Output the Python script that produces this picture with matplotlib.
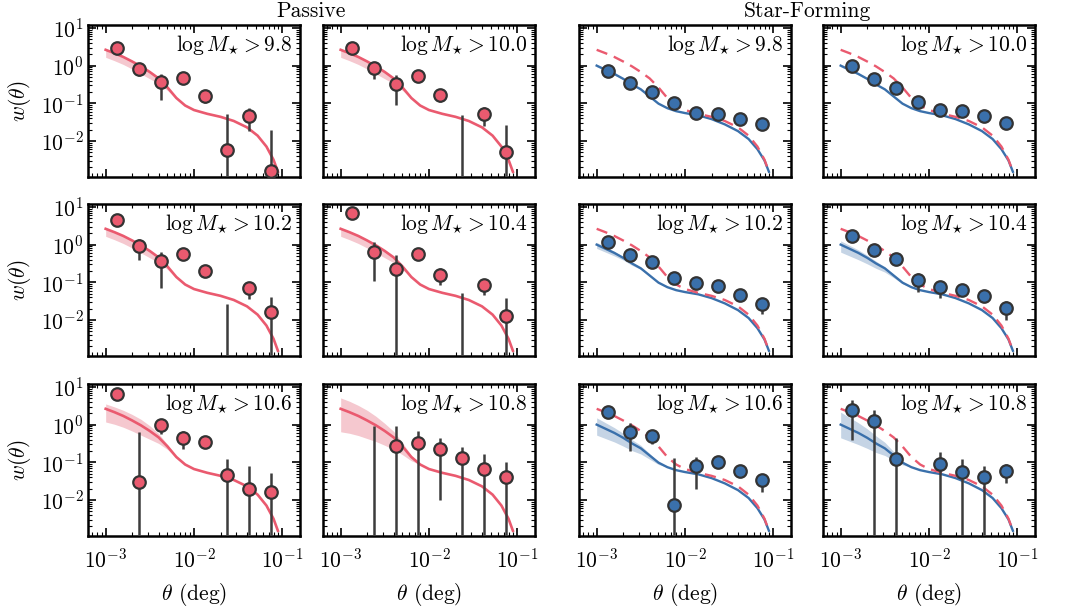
import numpy as np
import matplotlib
matplotlib.use("Agg")
import matplotlib.pyplot as plt
from matplotlib.ticker import LogLocator, NullFormatter

plt.rcParams['font.family'] = 'serif'
plt.rcParams['font.serif'] = ['cmr10']
plt.rcParams['mathtext.fontset'] = 'cm'
plt.rcParams['axes.formatter.use_mathtext'] = True

# ---------------- data ----------------
theta = [1.33e-3, 2.37e-3, 4.22e-3, 7.50e-3, 1.33e-2, 2.37e-2, 4.22e-2, 7.50e-2]

mass_labels = ["9.8", "10.0", "10.2", "10.4", "10.6", "10.8"]

# Passive measurements (negative -> no marker, bar only)
w_pas_98 = [2.93, 0.82, 0.36, 0.46, 0.16, 0.0056, 0.046, 0.0016]
e_pas_98 = [0.30, 0.30, 0.24, 0.05, 0.06, 0.047, 0.028, 0.018]
w_pas_100 = [2.90, 0.85, 0.33, 0.54, 0.17, -0.010, 0.053, 0.0051]
e_pas_100 = [0.30, 0.40, 0.24, 0.06, 0.06, 0.060, 0.028, 0.022]
w_pas_102 = [4.40, 0.90, 0.36, 0.58, 0.20, -0.005, 0.069, 0.016]
e_pas_102 = [1.00, 0.50, 0.29, 0.06, 0.06, 0.032, 0.034, 0.024]
w_pas_104 = [6.90, 0.64, 0.22, 0.58, 0.16, -0.005, 0.085, 0.013]
e_pas_104 = [1.00, 0.53, 0.30, 0.20, 0.075, 0.056, 0.040, 0.025]
w_pas_106 = [6.50, 0.030, 1.00, 0.45, 0.34, 0.045, 0.0195, 0.016]
e_pas_106 = [2.00, 0.60, 0.45, 0.22, 0.05, 0.080, 0.060, 0.037]
w_pas_108 = [np.nan, -0.10, 0.27, 0.33, 0.23, 0.127, 0.065, 0.040]
e_pas_108 = [np.nan, 1.00, 0.63, 0.34, 0.22, 0.130, 0.100, 0.060]

# Star-forming measurements
w_sf_98 = [0.74, 0.34, 0.197, 0.103, 0.056, 0.051, 0.039, 0.029]
e_sf_98 = [0.05, 0.03, 0.02, 0.01, 0.005, 0.005, 0.004, 0.004]
w_sf_100 = [1.00, 0.44, 0.25, 0.11, 0.065, 0.061, 0.045, 0.030]
e_sf_100 = [0.06, 0.04, 0.02, 0.01, 0.006, 0.006, 0.005, 0.005]
w_sf_102 = [1.17, 0.52, 0.35, 0.133, 0.094, 0.082, 0.047, 0.026]
e_sf_102 = [0.10, 0.05, 0.04, 0.02, 0.01, 0.01, 0.006, 0.012]
w_sf_104 = [1.66, 0.71, 0.41, 0.115, 0.074, 0.063, 0.042, 0.021]
e_sf_104 = [0.20, 0.10, 0.05, 0.06, 0.036, 0.021, 0.010, 0.011]
w_sf_106 = [2.20, 0.65, 0.49, 0.0075, 0.079, 0.104, 0.060, 0.033]
e_sf_106 = [0.30, 0.45, 0.18, 0.12, 0.06, 0.010, 0.012, 0.017]
w_sf_108 = [2.50, 1.22, 0.123, np.nan, 0.091, 0.056, 0.040, 0.058]
e_sf_108 = [2.10, 1.30, 0.31, np.nan, 0.095, 0.067, 0.040, 0.030]

# Model curves (log10 theta, log10 w)
model_logtheta = [-3.00, -2.90, -2.80, -2.70, -2.60, -2.50, -2.40, -2.30, -2.20, -2.10,
                  -2.00, -1.85, -1.70, -1.55, -1.40, -1.28, -1.18, -1.10, -1.05]
model_pas_logw = [0.42, 0.33, 0.23, 0.11, -0.02, -0.17, -0.34, -0.58, -0.86, -1.06,
                  -1.18, -1.28, -1.36, -1.47, -1.64, -1.86, -2.15, -2.50, -2.82]
model_sf_logw = [0.00, -0.11, -0.22, -0.35, -0.50, -0.63, -0.82, -1.01, -1.13, -1.21,
                 -1.26, -1.32, -1.42, -1.56, -1.74, -1.95, -2.22, -2.52, -2.82]

# Uncertainty bands: offsets (dex) from the model at the first 10 grid points
band_pas_hi_98 = [0, 0, 0, 0, 0, 0, 0, 0, 0, 0]
band_pas_lo_98 = [-0.20, -0.20, -0.20, -0.20, -0.20, -0.18, -0.14, -0.08, -0.02, 0]
band_pas_hi_106 = [0.13, 0.14, 0.15, 0.16, 0.16, 0.14, 0.10, 0.05, 0.01, 0]
band_pas_lo_106 = [-0.35, -0.32, -0.30, -0.28, -0.26, -0.22, -0.16, -0.08, -0.02, 0]
band_pas_hi_108 = [0.29, 0.29, 0.28, 0.27, 0.24, 0.20, 0.16, 0.10, 0.04, 0]
band_pas_lo_108 = [-0.61, -0.56, -0.52, -0.48, -0.43, -0.38, -0.32, -0.22, -0.10, 0]
band_sf_hi_98 = [0.02, 0.02, 0.02, 0.01, 0.01, 0.01, 0, 0, 0, 0]
band_sf_lo_98 = [-0.03, -0.03, -0.03, -0.02, -0.02, -0.01, 0, 0, 0, 0]
band_sf_hi_102 = [0.06, 0.05, 0.04, 0.03, 0.02, 0.01, 0, 0, 0, 0]
band_sf_lo_102 = [-0.10, -0.09, -0.08, -0.06, -0.05, -0.03, -0.02, -0.01, 0, 0]
band_sf_hi_104 = [0.10, 0.09, 0.08, 0.07, 0.06, 0.04, 0.02, 0.01, 0, 0]
band_sf_lo_104 = [-0.20, -0.19, -0.18, -0.16, -0.13, -0.10, -0.06, -0.03, 0, 0]
band_sf_hi_106 = [0.18, 0.16, 0.14, 0.12, 0.10, 0.08, 0.05, 0.02, 0, 0]
band_sf_lo_106 = [-0.28, -0.26, -0.24, -0.22, -0.19, -0.15, -0.10, -0.05, 0, 0]
band_sf_hi_108 = [0.33, 0.30, 0.27, 0.24, 0.20, 0.16, 0.10, 0.04, 0, 0]
band_sf_lo_108 = [-0.35, -0.33, -0.31, -0.28, -0.24, -0.19, -0.13, -0.06, 0, 0]

pas_data = [(w_pas_98, e_pas_98, band_pas_hi_98, band_pas_lo_98),
            (w_pas_100, e_pas_100, band_pas_hi_98, band_pas_lo_98),
            (w_pas_102, e_pas_102, band_pas_hi_98, band_pas_lo_98),
            (w_pas_104, e_pas_104, band_pas_hi_98, band_pas_lo_98),
            (w_pas_106, e_pas_106, band_pas_hi_106, band_pas_lo_106),
            (w_pas_108, e_pas_108, band_pas_hi_108, band_pas_lo_108)]
sf_data = [(w_sf_98, e_sf_98, band_sf_hi_98, band_sf_lo_98),
           (w_sf_100, e_sf_100, band_sf_hi_98, band_sf_lo_98),
           (w_sf_102, e_sf_102, band_sf_hi_102, band_sf_lo_102),
           (w_sf_104, e_sf_104, band_sf_hi_104, band_sf_lo_104),
           (w_sf_106, e_sf_106, band_sf_hi_106, band_sf_lo_106),
           (w_sf_108, e_sf_108, band_sf_hi_108, band_sf_lo_108)]

# ---------------- style ----------------
RED = "#ea5a6f"
BLUE = "#3a70ab"
RED_BAND = "#f5c8cf"
BLUE_BAND = "#c5d4e5"
EDGE = "#333333"
ECOL = "#3c3c3c"
FS = 15.5

W, H = 1065, 610
fig = plt.figure(figsize=(W / 100, H / 100), dpi=100)

lefts = [88, 323, 579, 823]
width = 212
tops = [25, 204, 384]
height = 152

mt = np.power(10.0, model_logtheta)
m_pas = np.power(10.0, model_pas_logw)
m_sf = np.power(10.0, model_sf_logw)
nb = 10

def style_axes(ax, row, col):
    ax.set_xscale('log')
    ax.set_yscale('log')
    ax.set_xlim(10 ** -3.2, 10 ** -0.8)
    ax.set_ylim(1.1e-3, 12)
    ax.yaxis.set_major_locator(LogLocator(base=10, numticks=20))
    ax.yaxis.set_minor_locator(LogLocator(base=10, subs=np.arange(2, 10), numticks=20))
    ax.yaxis.set_minor_formatter(NullFormatter())
    for s in ax.spines.values():
        s.set_linewidth(1.8)
    ax.tick_params(which='both', direction='in', top=True, right=True, labelsize=FS)
    ax.tick_params(which='major', length=6, width=1.2)
    ax.tick_params(which='minor', length=3, width=0.8)
    ax.tick_params(axis='x', which='major', pad=8)
    ax.tick_params(axis='y', which='major', pad=3)
    if col != 0:
        ax.tick_params(labelleft=False)
    else:
        ax.set_ylabel(r'$w(\theta)$', fontsize=FS, labelpad=6)
    if row != 2:
        ax.tick_params(labelbottom=False)
    else:
        ax.set_xlabel(r'$\theta$ (deg)', fontsize=FS, labelpad=7)

for k in range(6):
    row = k // 2
    for grp in range(2):
        col = grp * 2 + (k % 2)
        l = lefts[col]
        t = tops[row]
        ax = fig.add_axes([l / W, 1 - (t + height) / H, width / W, height / H])
        style_axes(ax, row, col)
        if grp == 0:
            w, e, bh, bl = pas_data[k]
            base = np.array(model_pas_logw[:nb])
            ax.fill_between(mt[:nb], 10 ** (base + np.array(bl)), 10 ** (base + np.array(bh)),
                            color=RED_BAND, lw=0, zorder=1)
            ax.plot(mt, m_pas, color=RED, lw=1.9, zorder=2)
            fc = RED
        else:
            w, e, bh, bl = sf_data[k]
            base = np.array(model_sf_logw[:nb])
            ax.fill_between(mt[:nb], 10 ** (base + np.array(bl)), 10 ** (base + np.array(bh)),
                            color=BLUE_BAND, lw=0, zorder=1)
            ax.plot(mt, m_sf, color=BLUE, lw=1.7, zorder=2)
            ax.plot(mt, m_pas, color=RED, lw=1.7, ls=(0, (4.8, 3.0)), zorder=3)
            fc = BLUE
        ax.errorbar(theta, w, yerr=e, fmt='o', ms=9, mfc=fc, mec=EDGE, mew=1.6,
                    ecolor=ECOL, elinewidth=1.8, capsize=0, zorder=5)
        ax.text(0.963, 0.865, r'$\log M_{\star} > %s$' % mass_labels[k],
                transform=ax.transAxes, ha='right', va='center', fontsize=FS)

fig.text((lefts[0] + lefts[1] + width) / 2 / W, 1 - 11 / H, 'Passive',
         ha='center', va='center', fontsize=FS)
fig.text((lefts[2] + lefts[3] + width) / 2 / W, 1 - 11 / H, 'Star-Forming',
         ha='center', va='center', fontsize=FS)

fig.savefig('out.png', dpi=100)
